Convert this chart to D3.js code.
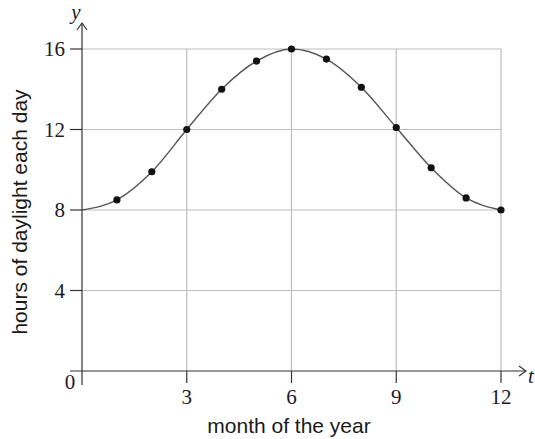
<!DOCTYPE html>
<html>
<head>
<meta charset="utf-8">
<script src="https://cdn.jsdelivr.net/npm/d3@7"></script>
<style>
  body { margin: 0; background: #fff; }
  .num { font-family: "Liberation Serif", "Times New Roman", serif; font-size: 21px; fill: #1a1a2a; }
  .title { font-family: "Liberation Sans", Arial, sans-serif; font-size: 21px; fill: #1a1a1a; }
</style>
</head>
<body>
<div class="chart"></div>
<script>
// months and hours of daylight
var months = [1, 2, 3, 4, 5, 6, 7, 8, 9, 10, 11, 12];
var hours = [8.5, 9.9, 12, 14, 15.4, 16, 15.5, 14.1, 12.1, 10.1, 8.6, 8];
// curve starts at t = 0 with 8 hours
var curveMonths = [0, 1, 2, 3, 4, 5, 6, 7, 8, 9, 10, 11, 12];
var curveHours = [8, 8.5, 9.9, 12, 14, 15.4, 16, 15.5, 14.1, 12.1, 10.1, 8.6, 8];
var xTicks = [3, 6, 9, 12];
var yTicks = [4, 8, 12, 16];

const width = 535;
const height = 439;

const svg = d3.select('.chart')
    .append('svg')
    .attr('width', width)
    .attr('height', height);

const x = d3.scaleLinear().domain([0, 12]).range([82, 501]);
const y = d3.scaleLinear().domain([0, 16]).range([371, 49]);

// grid
svg.append('g')
    .selectAll('line')
    .data(xTicks)
    .enter()
    .append('line')
        .attr('x1', d => x(d)).attr('x2', d => x(d))
        .attr('y1', y(0)).attr('y2', y(16))
        .attr('stroke', '#bdbdbd').attr('stroke-width', 1.2);
svg.append('g')
    .selectAll('line')
    .data(yTicks)
    .enter()
    .append('line')
        .attr('x1', x(0)).attr('x2', x(12))
        .attr('y1', d => y(d)).attr('y2', d => y(d))
        .attr('stroke', '#bdbdbd').attr('stroke-width', 1.2);

// axes
const axisColor = '#333';
svg.append('line')
    .attr('x1', x(0) - 12).attr('x2', 525)
    .attr('y1', y(0)).attr('y2', y(0))
    .attr('stroke', axisColor).attr('stroke-width', 1.2);
svg.append('path')
    .attr('d', `M${519},${y(0) - 5}L${526},${y(0)}L${519},${y(0) + 5}`)
    .attr('fill', 'none').attr('stroke', axisColor).attr('stroke-width', 1.2);
svg.append('line')
    .attr('x1', x(0)).attr('x2', x(0))
    .attr('y1', y(0) + 14).attr('y2', 23)
    .attr('stroke', axisColor).attr('stroke-width', 1.2);
svg.append('path')
    .attr('d', `M${x(0) - 5},${30}L${x(0)},${23}L${x(0) + 5},${30}`)
    .attr('fill', 'none').attr('stroke', axisColor).attr('stroke-width', 1.2);

// ticks
svg.append('g')
    .selectAll('line')
    .data(xTicks)
    .enter()
    .append('line')
        .attr('x1', d => x(d)).attr('x2', d => x(d))
        .attr('y1', y(0)).attr('y2', y(0) + 12)
        .attr('stroke', axisColor).attr('stroke-width', 1.2);
svg.append('g')
    .selectAll('line')
    .data(yTicks)
    .enter()
    .append('line')
        .attr('x1', x(0) - 12).attr('x2', x(0))
        .attr('y1', d => y(d)).attr('y2', d => y(d))
        .attr('stroke', axisColor).attr('stroke-width', 1.2);

// tick labels
svg.append('g')
    .selectAll('text')
    .data(xTicks)
    .enter()
    .append('text')
        .attr('class', 'num')
        .attr('x', d => x(d))
        .attr('y', 404)
        .attr('text-anchor', 'middle')
        .text(d => d);
svg.append('g')
    .selectAll('text')
    .data(yTicks)
    .enter()
    .append('text')
        .attr('class', 'num')
        .attr('x', 65)
        .attr('y', d => y(d) + 7)
        .attr('text-anchor', 'end')
        .text(d => d);
svg.append('text')
    .attr('class', 'num')
    .attr('x', 70)
    .attr('y', 389)
    .attr('text-anchor', 'middle')
    .text('0');

// axis letters
svg.append('text')
    .attr('class', 'num')
    .attr('x', 76).attr('y', 19)
    .attr('font-style', 'italic')
    .attr('text-anchor', 'middle')
    .text('y');
svg.append('text')
    .attr('class', 'num')
    .attr('x', 531).attr('y', 383)
    .attr('font-style', 'italic')
    .attr('text-anchor', 'middle')
    .text('t');

// axis titles
svg.append('text')
    .attr('class', 'title')
    .attr('x', 289).attr('y', 433)
    .attr('text-anchor', 'middle')
    .text('month of the year');
svg.append('text')
    .attr('class', 'title')
    .attr('transform', 'translate(27,' + 212 + ') rotate(-90)')
    .attr('text-anchor', 'middle')
    .text('hours of daylight each day');

// curve
const line = d3.line()
    .x((d, i) => x(curveMonths[i]))
    .y(d => y(d))
    .curve(d3.curveMonotoneX);
svg.append('path')
    .datum(curveHours)
    .attr('d', line)
    .attr('fill', 'none')
    .attr('stroke', '#555')
    .attr('stroke-width', 1.4);

// points
svg.append('g')
    .selectAll('circle')
    .data(hours)
    .enter()
    .append('circle')
        .attr('cx', (d, i) => x(months[i]))
        .attr('cy', d => y(d))
        .attr('r', 3.6)
        .attr('fill', '#111');
</script>
</body>
</html>
